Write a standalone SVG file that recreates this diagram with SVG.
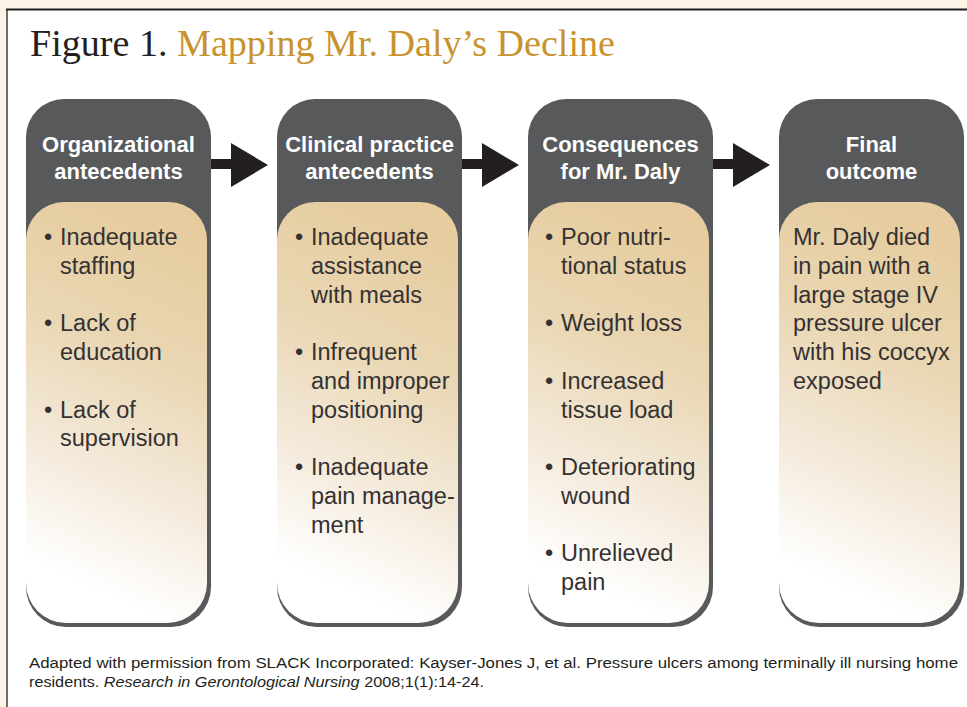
<svg xmlns="http://www.w3.org/2000/svg" width="967" height="707" viewBox="0 0 967 707">
<defs>
<linearGradient id="bodyGrad" gradientUnits="userSpaceOnUse" x1="140" y1="220" x2="-10" y2="554">
<stop offset="0" stop-color="#e6cc9e"/>
<stop offset="0.35" stop-color="#e9d6b2"/>
<stop offset="0.7" stop-color="#f4eadb"/>
<stop offset="1" stop-color="#ffffff"/>
</linearGradient>
<path id="dark" d="M0,137 A38,38 0 0 1 38,99 H147 A38,38 0 0 1 185,137 V587 A40,40 0 0 1 145,627 H40 A40,40 0 0 1 0,587 Z"/>
<path id="body" d="M0,240 A38,38 0 0 1 38,202 H143 A38,38 0 0 1 181,240 V583 A40,40 0 0 1 141,623 H40 A40,40 0 0 1 0,583 Z"/>
<path id="arrow" d="M0,159 H20 V143 L57,165 L20,187 V169 H0 Z"/>
</defs>
<style>
.dark{fill:#58595b}
.body{fill:url(#bodyGrad)}
.head{font-family:"Liberation Sans",Arial,sans-serif;font-weight:bold;font-size:22px;fill:#ffffff;text-anchor:middle}
.txt{font-family:"Liberation Sans",Arial,sans-serif;font-size:23.5px;fill:#353132}
.arr{fill:#231f20}
.cap{font-family:"Liberation Sans",Arial,sans-serif;font-size:15.5px;fill:#231f20}
</style>
<rect x="0" y="0" width="967" height="707" fill="#fbf3e6"/>
<rect x="7" y="9" width="960" height="698" fill="#ffffff"/>
<line x1="6" y1="9.5" x2="967" y2="9.5" stroke="#231f20" stroke-width="2"/>
<line x1="7" y1="9" x2="7" y2="707" stroke="#231f20" stroke-width="1.3"/>
<text x="30" y="56" font-family="'Liberation Serif','Times New Roman',serif" font-size="37" textLength="585" lengthAdjust="spacingAndGlyphs"><tspan fill="#231f20">Figure 1. </tspan><tspan fill="#c8932e">Mapping Mr. Daly’s Decline</tspan></text>
<g id="connectors">
<use href="#arrow" class="arr" transform="translate(211,0)"/>
<use href="#arrow" class="arr" transform="translate(462,0)"/>
<use href="#arrow" class="arr" transform="translate(713,0)"/>
</g>
<g id="node-organizational" transform="translate(26,0)">
<use href="#dark" class="dark"/>
<use href="#body" class="body"/>
<text class="head" x="92.5" y="152">Organizational</text>
<text class="head" x="92.5" y="179">antecedents</text>
<text class="txt" x="18" y="245">•</text><text class="txt" x="34" y="245">Inadequate</text>
<text class="txt" x="34" y="274">staffing</text>
<text class="txt" x="18" y="331">•</text><text class="txt" x="34" y="331">Lack of</text>
<text class="txt" x="34" y="360">education</text>
<text class="txt" x="18" y="417.5">•</text><text class="txt" x="34" y="417.5">Lack of</text>
<text class="txt" x="34" y="446">supervision</text>
</g>
<g id="node-clinical" transform="translate(277,0)">
<use href="#dark" class="dark"/>
<use href="#body" class="body"/>
<text class="head" x="92.5" y="152">Clinical practice</text>
<text class="head" x="92.5" y="179">antecedents</text>
<text class="txt" x="18" y="245">•</text><text class="txt" x="34" y="245">Inadequate</text>
<text class="txt" x="34" y="274">assistance</text>
<text class="txt" x="34" y="302.5">with meals</text>
<text class="txt" x="18" y="360">•</text><text class="txt" x="34" y="360">Infrequent</text>
<text class="txt" x="34" y="389">and improper</text>
<text class="txt" x="34" y="417.5">positioning</text>
<text class="txt" x="18" y="475">•</text><text class="txt" x="34" y="475">Inadequate</text>
<text class="txt" x="34" y="504">pain manage-</text>
<text class="txt" x="34" y="532.5">ment</text>
</g>
<g id="node-consequences" transform="translate(528,0)">
<use href="#dark" class="dark"/>
<use href="#body" class="body"/>
<text class="head" x="92.5" y="152">Consequences</text>
<text class="head" x="92.5" y="179">for Mr. Daly</text>
<text class="txt" x="17" y="245">•</text><text class="txt" x="33" y="245">Poor nutri-</text>
<text class="txt" x="33" y="274">tional status</text>
<text class="txt" x="17" y="331">•</text><text class="txt" x="33" y="331">Weight loss</text>
<text class="txt" x="17" y="389">•</text><text class="txt" x="33" y="389">Increased</text>
<text class="txt" x="33" y="417.5">tissue load</text>
<text class="txt" x="17" y="475">•</text><text class="txt" x="33" y="475">Deteriorating</text>
<text class="txt" x="33" y="504">wound</text>
<text class="txt" x="17" y="561">•</text><text class="txt" x="33" y="561">Unrelieved</text>
<text class="txt" x="33" y="590">pain</text>
</g>
<g id="node-final" transform="translate(779,0)">
<use href="#dark" class="dark"/>
<use href="#body" class="body"/>
<text class="head" x="92.5" y="152">Final</text>
<text class="head" x="92.5" y="179">outcome</text>
<text class="txt" x="14" y="245">Mr. Daly died</text>
<text class="txt" x="14" y="274">in pain with a</text>
<text class="txt" x="14" y="302.5">large stage IV</text>
<text class="txt" x="14" y="331">pressure ulcer</text>
<text class="txt" x="14" y="360">with his coccyx</text>
<text class="txt" x="14" y="389">exposed</text>
</g>
<text class="cap" x="29" y="668" textLength="929" lengthAdjust="spacingAndGlyphs">Adapted with permission from SLACK Incorporated: Kayser-Jones J, et al. Pressure ulcers among terminally ill nursing home</text>
<text class="cap" x="29" y="687" textLength="455" lengthAdjust="spacingAndGlyphs">residents. <tspan font-style="italic">Research in Gerontological Nursing</tspan> 2008;1(1):14-24.</text>
</svg>
